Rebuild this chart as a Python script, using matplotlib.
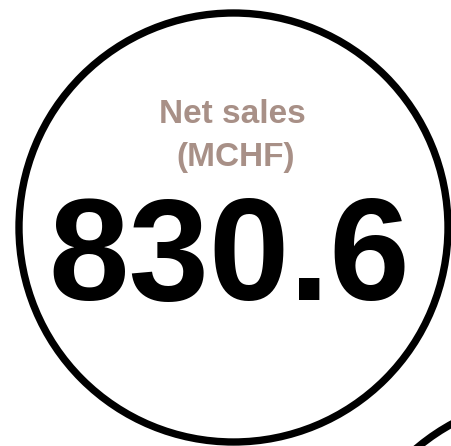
import matplotlib
matplotlib.use("Agg")
import matplotlib.pyplot as plt
from matplotlib.patches import Circle

label_lines = ["Net sales", "(MCHF)"]
value_text = "830.6"
label_color = "#A89087"

fig = plt.figure(figsize=(4.52, 4.46), dpi=100)
ax = fig.add_axes([0, 0, 1, 1])
ax.set_xlim(0, 452)
ax.set_ylim(446, 0)
ax.set_aspect("equal")
ax.axis("off")

ax.add_patch(Circle((233.5, 227.5), 214.5, fill=False, edgecolor="black", linewidth=5.3))
ax.add_patch(Circle((555, 612), 214.5, fill=False, edgecolor="black", linewidth=5.3))

font = "Liberation Sans"
ax.text(232, 123, label_lines[0], ha="center", va="baseline", fontsize=24,
        fontweight="bold", color=label_color, family=font)
ax.text(236, 166, label_lines[1], ha="center", va="baseline", fontsize=24,
        fontweight="bold", color=label_color, family=font)
ax.text(229, 300, value_text, ha="center", va="baseline", fontsize=104,
        fontweight="bold", color="black", family=font)

fig.savefig("out.png", dpi=100)
